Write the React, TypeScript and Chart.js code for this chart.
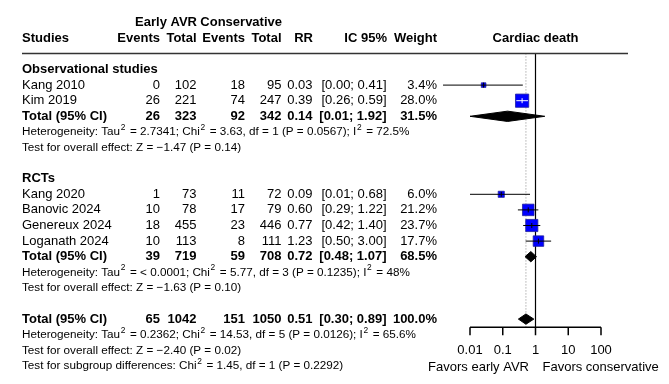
import React, { useEffect, useRef } from "react";
import { Chart, registerables } from "chart.js";

Chart.register(...registerables);

// ---------------- DATA ----------------
const obsStudies = ["Kang 2010", "Kim 2019"];
const obsEventsEarly = [0, 26];
const obsTotalEarly = [102, 221];
const obsEventsCons = [18, 74];
const obsTotalCons = [95, 247];
const obsRR = [0.026, 0.39];
const obsLower = [0.0015, 0.26];
const obsUpper = [0.41, 0.59];
const obsWeight = [3.4, 28.0];

const rctStudies = ["Kang 2020", "Banovic 2024", "Genereux 2024", "Loganath 2024"];
const rctEventsEarly = [1, 10, 18, 10];
const rctTotalEarly = [73, 78, 455, 113];
const rctEventsCons = [11, 17, 23, 8];
const rctTotalCons = [72, 79, 446, 111];
const rctRR = [0.09, 0.6, 0.77, 1.23];
const rctLower = [0.01, 0.29, 0.42, 0.5];
const rctUpper = [0.68, 1.22, 1.4, 3.0];
const rctWeight = [6.0, 21.2, 23.7, 17.7];

const subgroupNames = ["Observational studies", "RCTs"];
const subEventsEarly = [26, 39];
const subTotalEarly = [323, 719];
const subEventsCons = [92, 59];
const subTotalCons = [342, 708];
const subRR = [0.14, 0.72];
const subLower = [0.01, 0.48];
const subUpper = [1.92, 1.07];
const subWeight = [31.5, 68.5];
const subHeterogeneity = [
  "Heterogeneity: Tau^2 = 2.7341; Chi^2 = 3.63, df = 1 (P = 0.0567); I^2 = 72.5%",
  "Heterogeneity: Tau^2 = < 0.0001; Chi^2 = 5.77, df = 3 (P = 0.1235); I^2 = 48%",
];
const subOverallTest = [
  "Test for overall effect: Z = \u22121.47 (P = 0.14)",
  "Test for overall effect: Z = \u22121.63 (P = 0.10)",
];

const overallEventsEarly = 65;
const overallTotalEarly = 1042;
const overallEventsCons = 151;
const overallTotalCons = 1050;
const overallRR = 0.51;
const overallLower = 0.3;
const overallUpper = 0.89;
const overallWeight = 100.0;
const overallHeterogeneity =
  "Heterogeneity: Tau^2 = 0.2362; Chi^2 = 14.53, df = 5 (P = 0.0126); I^2 = 65.6%";
const overallTest = "Test for overall effect: Z = \u22122.40 (P = 0.02)";
const subgroupTest = "Test for subgroup differences: Chi^2 = 1.45, df = 1 (P = 0.2292)";

const xTicks = [0.01, 0.1, 1, 10, 100];
const xTickLabels = ["0.01", "0.1", "1", "10", "100"];
const favorsLeft = "Favors early AVR";
const favorsRight = "Favors conservative";
const plotTitle = "Cardiac death";
const totalLabel = "Total (95% CI)";

// ---------------- LAYOUT (rows) ----------------
const FONT = '"Liberation Sans", Arial, Helvetica, sans-serif';
const MAIN = 13;
const SMALL = 11.7;

type Study = { name: string; ee: number; te: number; ec: number; tc: number; rr: number; lo: number; hi: number; w: number; row: number };
type Group = { name: string; headerRow: number; studies: Study[]; total: Study; hetRow: number; testRow: number; het: string; test: string };

const groups: Group[] = [];
let r = 3;
const groupSrc = [
  { names: obsStudies, ee: obsEventsEarly, te: obsTotalEarly, ec: obsEventsCons, tc: obsTotalCons, rr: obsRR, lo: obsLower, hi: obsUpper, w: obsWeight },
  { names: rctStudies, ee: rctEventsEarly, te: rctTotalEarly, ec: rctEventsCons, tc: rctTotalCons, rr: rctRR, lo: rctLower, hi: rctUpper, w: rctWeight },
];
groupSrc.forEach((g, gi) => {
  const headerRow = r++;
  const studies: Study[] = g.names.map((n, i) => ({
    name: n, ee: g.ee[i], te: g.te[i], ec: g.ec[i], tc: g.tc[i], rr: g.rr[i], lo: g.lo[i], hi: g.hi[i], w: g.w[i], row: r++,
  }));
  const total: Study = {
    name: totalLabel, ee: subEventsEarly[gi], te: subTotalEarly[gi], ec: subEventsCons[gi], tc: subTotalCons[gi],
    rr: subRR[gi], lo: subLower[gi], hi: subUpper[gi], w: subWeight[gi], row: r++,
  };
  const hetRow = r++;
  const testRow = r++;
  r++;
  groups.push({ name: subgroupNames[gi], headerRow, studies, total, hetRow, testRow, het: subHeterogeneity[gi], test: subOverallTest[gi] });
});
const overall: Study = {
  name: totalLabel, ee: overallEventsEarly, te: overallTotalEarly, ec: overallEventsCons, tc: overallTotalCons,
  rr: overallRR, lo: overallLower, hi: overallUpper, w: overallWeight, row: r++,
};
const overallHetRow = r++;
const overallTestRow = r++;
const subgroupTestRow = r++;

const allStudies = groups.flatMap((g) => g.studies);
const diamonds = [...groups.map((g) => g.total), overall];

const HEADER_LINE_ROW = 1.97;
const AXIS_ROW = 19.53;
const TICK_LABEL_ROW = 21.03;
const FAVORS_ROW = 22.07;
const SQUARE_K = 2.5;
const PX_PER_DECADE = 32.75;
const DIAMOND_HALF = 0.33;

const COL = { studies: 22, ee: 160, te: 196.5, ec: 245, tc: 281.5, rr: 312.5, ci: 386.5, w: 437 };

function drawRich(ctx: CanvasRenderingContext2D, text: string, x: number, y: number, size: number, bold = false) {
  const weight = bold ? "bold " : "";
  const parts = text.split("^");
  let cx = x;
  ctx.textAlign = "left";
  parts.forEach((p, i) => {
    let rest = p;
    if (i > 0) {
      const sup = p[0];
      rest = p.slice(1);
      ctx.font = `${weight}${size * 0.72}px ${FONT}`;
      ctx.fillText(sup, cx + 0.6, y - size * 0.36);
      cx += ctx.measureText(sup).width + 2;
    }
    ctx.font = `${weight}${size}px ${FONT}`;
    ctx.fillText(rest, cx, y);
    cx += ctx.measureText(rest).width;
  });
}

function textAt(ctx: CanvasRenderingContext2D, t: string, x: number, y: number, align: CanvasTextAlign, bold = false, size = MAIN) {
  ctx.font = `${bold ? "bold " : ""}${size}px ${FONT}`;
  ctx.textAlign = align;
  ctx.fillText(t, x, y);
}

const tablePlugin = {
  id: "forestTable",
  afterDatasetsDraw(chart: any) {
    const ctx: CanvasRenderingContext2D = chart.ctx;
    const xs = chart.scales.x;
    const ys = chart.scales.y;
    const Y = (row: number) => ys.getPixelForValue(row);
    ctx.save();
    ctx.fillStyle = "#000";
    ctx.textBaseline = "middle";

    // headers
    textAt(ctx, "Early AVR", COL.te + 0.5, Y(0), "right", true);
    textAt(ctx, "Conservative", COL.tc + 0.5, Y(0), "right", true);
    textAt(ctx, "Studies", COL.studies, Y(1), "left", true);
    textAt(ctx, "Events", COL.ee, Y(1), "right", true);
    textAt(ctx, "Total", COL.te, Y(1), "right", true);
    textAt(ctx, "Events", COL.ec, Y(1), "right", true);
    textAt(ctx, "Total", COL.tc, Y(1), "right", true);
    textAt(ctx, "RR", COL.rr + 0.5, Y(1), "right", true);
    textAt(ctx, "IC 95%", COL.ci + 0.5, Y(1), "right", true);
    textAt(ctx, "Weight", COL.w, Y(1), "right", true);
    textAt(ctx, plotTitle, xs.getPixelForValue(1), Y(1), "center", true);

    // header rule
    ctx.strokeStyle = "#333";
    ctx.lineWidth = 1.5;
    ctx.beginPath();
    ctx.moveTo(COL.studies, Y(HEADER_LINE_ROW));
    ctx.lineTo(628, Y(HEADER_LINE_ROW));
    ctx.stroke();

    const row = (s: Study, bold: boolean) => {
      const y = Y(s.row);
      textAt(ctx, s.name, COL.studies, y, "left", bold);
      textAt(ctx, String(s.ee), COL.ee, y, "right", bold);
      textAt(ctx, String(s.te), COL.te, y, "right", bold);
      textAt(ctx, String(s.ec), COL.ec, y, "right", bold);
      textAt(ctx, String(s.tc), COL.tc, y, "right", bold);
      textAt(ctx, s.rr.toFixed(2), COL.rr, y, "right", bold);
      textAt(ctx, `[${s.lo.toFixed(2)}; ${s.hi.toFixed(2)}]`, COL.ci, y, "right", bold);
      textAt(ctx, `${s.w.toFixed(1)}%`, COL.w, y, "right", bold);
    };

    groups.forEach((g) => {
      textAt(ctx, g.name, COL.studies, Y(g.headerRow), "left", true);
      g.studies.forEach((s) => row(s, false));
      row(g.total, true);
      drawRich(ctx, g.het, COL.studies, Y(g.hetRow), SMALL);
      drawRich(ctx, g.test, COL.studies, Y(g.testRow), SMALL);
    });
    row(overall, true);
    drawRich(ctx, overallHeterogeneity, COL.studies, Y(overallHetRow), SMALL);
    drawRich(ctx, overallTest, COL.studies, Y(overallTestRow), SMALL);
    drawRich(ctx, subgroupTest, COL.studies, Y(subgroupTestRow), SMALL);

    // axis
    const ay = Y(AXIS_ROW);
    ctx.strokeStyle = "#000";
    ctx.lineWidth = 1.5;
    ctx.beginPath();
    ctx.moveTo(xs.getPixelForValue(xTicks[0]), ay);
    ctx.lineTo(xs.getPixelForValue(xTicks[xTicks.length - 1]), ay);
    xTicks.forEach((t) => {
      const px = xs.getPixelForValue(t);
      ctx.moveTo(px, ay);
      ctx.lineTo(px, ay + 8);
    });
    ctx.stroke();
    xTicks.forEach((t, i) => {
      textAt(ctx, xTickLabels[i], xs.getPixelForValue(t), Y(TICK_LABEL_ROW), "center");
    });
    const x1 = xs.getPixelForValue(1);
    textAt(ctx, favorsLeft, x1 - 6.5, Y(FAVORS_ROW), "right");
    textAt(ctx, favorsRight, x1 + 7, Y(FAVORS_ROW), "left");
    ctx.restore();
  },
};

function squareSide(w: number) {
  return SQUARE_K * Math.sqrt(w);
}

export default function App() {
  const ref = useRef<HTMLCanvasElement>(null);
  useEffect(() => {
    if (!ref.current) return;
    const datasets: any[] = [];
    // reference line at 1
    datasets.push({
      data: [{ x: 1, y: HEADER_LINE_ROW }, { x: 1, y: AXIS_ROW }],
      showLine: true, borderColor: "#000", borderWidth: 1.2, pointRadius: 0, order: 20, clip: false,
    });
    // dotted line at overall estimate
    datasets.push({
      data: [{ x: overall.rr, y: HEADER_LINE_ROW }, { x: overall.rr, y: AXIS_ROW }],
      showLine: true, borderColor: "#888", borderWidth: 1, borderDash: [1, 2], pointRadius: 0, order: 19, clip: false,
    });
    // squares
    datasets.push({
      data: allStudies.map((s) => ({ x: s.rr, y: s.row })),
      showLine: false,
      pointStyle: "rect",
      pointRadius: allStudies.map((s) => squareSide(s.w) / Math.SQRT2),
      backgroundColor: "#0000ff",
      borderColor: "#2020a0",
      borderWidth: 0.8,
      order: 10,
      clip: false,
    });
    // CI lines + estimate ticks
    allStudies.forEach((s) => {
      const ciPx = (Math.log10(s.hi) - Math.log10(s.lo)) * PX_PER_DECADE;
      const col = ciPx < squareSide(s.w) ? "#fff" : "#000";
      datasets.push({
        data: [{ x: s.lo, y: s.row }, { x: s.hi, y: s.row }],
        showLine: true, borderColor: col, borderWidth: 1, pointRadius: 0, order: 5, clip: false,
      });
      datasets.push({
        data: [{ x: s.rr, y: s.row }],
        showLine: false, pointStyle: "line", rotation: 90, pointRadius: 2.5,
        borderColor: col, borderWidth: 1, order: 4, clip: false,
      });
    });
    // diamonds
    diamonds.forEach((d) => {
      datasets.push({
        data: [
          { x: d.lo, y: d.row },
          { x: d.rr, y: d.row - DIAMOND_HALF },
          { x: d.hi, y: d.row },
          { x: d.rr, y: d.row + DIAMOND_HALF },
          { x: d.lo, y: d.row },
        ],
        showLine: true, fill: "shape", backgroundColor: "#000", borderColor: "#000", borderWidth: 1,
        pointRadius: 0, tension: 0, order: 1, clip: false,
      });
    });

    const chart = new Chart(ref.current, {
      type: "scatter",
      data: { datasets },
      options: {
        animation: false,
        responsive: false,
        devicePixelRatio: 1,
        events: [],
        layout: { autoPadding: false, padding: { left: 470, right: 68, top: 7.1, bottom: 2.5 } },
        plugins: { legend: { display: false }, tooltip: { enabled: false } },
        scales: {
          x: { type: "logarithmic", min: 0.01, max: 100, display: false },
          y: { type: "linear", min: -1, max: 23, reverse: true, display: false },
        },
      },
      plugins: [tablePlugin],
    });
    return () => chart.destroy();
  }, []);
  return (
    <div style={{ position: "absolute", left: 0, top: 0, width: 669, height: 384, background: "#fff" }}>
      <canvas ref={ref} width={669} height={384} style={{ display: "block" }} />
    </div>
  );
}
